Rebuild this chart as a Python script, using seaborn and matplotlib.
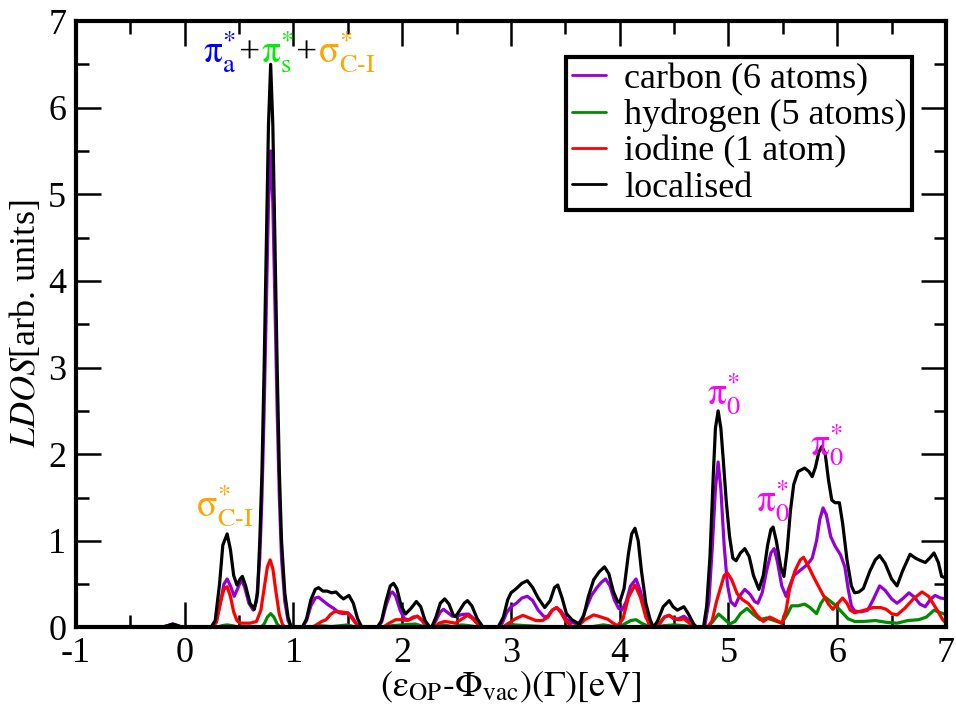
import numpy as np
import pandas as pd
import matplotlib
matplotlib.use("Agg")
import matplotlib.pyplot as plt
import seaborn as sns
from matplotlib.ticker import MultipleLocator

# ---------------- data ----------------
carbon_x = [-1, -0.22, -0.16, -0.11, -0.06, -0.02, 0.24, 0.29, 0.33, 0.36, 0.39, 0.42, 0.455, 0.49, 0.52, 0.55,
            0.59, 0.63, 0.66, 0.69, 0.71, 0.73, 0.75, 0.77, 0.79, 0.81, 0.83, 0.85, 0.87, 0.89, 0.92, 0.95, 0.98,
            1.08, 1.12, 1.16, 1.20, 1.23, 1.27, 1.32, 1.37, 1.42, 1.46, 1.50, 1.54, 1.58, 1.62,
            1.77, 1.81, 1.85, 1.89, 1.91, 1.94, 1.98, 2.02, 2.06, 2.10, 2.14, 2.18, 2.22, 2.25,
            2.27, 2.31, 2.35, 2.38, 2.42, 2.46, 2.50, 2.55, 2.61, 2.66, 2.70, 2.74,
            2.88, 2.92, 2.96, 3.00, 3.05, 3.10, 3.15, 3.20, 3.25, 3.30, 3.33, 3.38, 3.42, 3.46, 3.50, 3.55,
            3.62, 3.66, 3.70, 3.74, 3.79, 3.83, 3.87, 3.91, 3.95, 3.99, 4.02, 4.06, 4.10, 4.15, 4.19, 4.23,
            4.27, 4.32, 4.37, 4.41, 4.455, 4.50, 4.54, 4.59, 4.63, 4.67, 4.71,
            4.78, 4.82, 4.85, 4.88, 4.905, 4.93, 4.96, 4.99, 5.02, 5.06, 5.10, 5.15, 5.20, 5.24, 5.27,
            5.31, 5.35, 5.39, 5.42, 5.45, 5.49, 5.53, 5.56, 5.60, 5.66, 5.72, 5.77, 5.81, 5.84, 5.87,
            5.90, 5.94, 5.98, 6.03, 6.07, 6.10, 6.13, 6.16, 6.22, 6.28, 6.33, 6.39, 6.44, 6.50, 6.55,
            6.60, 6.66, 6.71, 6.76, 6.81, 6.86, 6.90, 6.95, 7.0]
carbon_y = [0, 0, 0.02, 0.04, 0.02, 0, 0, 0.06, 0.30, 0.50, 0.56, 0.48, 0.36, 0.46, 0.55, 0.47,
            0.28, 0.20, 0.30, 0.80, 1.5, 2.5, 3.7, 4.9, 5.5, 4.9, 3.7, 2.5, 1.5, 0.8, 0.3, 0.08, 0,
            0, 0.08, 0.25, 0.34, 0.35, 0.31, 0.26, 0.22, 0.17, 0.16, 0.17, 0.12, 0.04, 0,
            0, 0.06, 0.25, 0.39, 0.41, 0.36, 0.20, 0.10, 0.09, 0.12, 0.13, 0.08, 0.02, 0,
            0, 0.08, 0.18, 0.21, 0.17, 0.13, 0.13, 0.15, 0.155, 0.10, 0.03, 0,
            0, 0.05, 0.17, 0.24, 0.28, 0.34, 0.36, 0.31, 0.20, 0.13, 0.12, 0.20, 0.23, 0.19, 0.11, 0.06,
            0.04, 0.12, 0.25, 0.37, 0.46, 0.52, 0.56, 0.48, 0.32, 0.22, 0.20, 0.30, 0.48, 0.56, 0.42, 0.20,
            0.04, 0, 0.05, 0.12, 0.14, 0.10, 0.10, 0.13, 0.09, 0.03, 0,
            0, 0.30, 0.90, 1.60, 1.91, 1.60, 0.95, 0.50, 0.30, 0.25, 0.36, 0.44, 0.38, 0.30, 0.28,
            0.40, 0.65, 0.86, 0.91, 0.76, 0.48, 0.36, 0.47, 0.60, 0.66, 0.72, 0.80, 1.00, 1.25, 1.38,
            1.30, 1.05, 0.94, 0.84, 0.70, 0.45, 0.25, 0.19, 0.18, 0.20, 0.32, 0.48, 0.43, 0.33, 0.28,
            0.33, 0.40, 0.35, 0.27, 0.24, 0.33, 0.37, 0.34, 0.33]

hydrogen_x = [-1, 0.30, 0.34, 0.39, 0.44, 0.50, 0.70, 0.73, 0.76, 0.79, 0.82, 0.85, 0.88,
              1.15, 1.25, 1.35, 1.50, 1.55, 1.62, 1.80, 1.90, 2.00, 2.12, 2.20, 2.30, 2.38, 2.46, 2.55,
              2.62, 2.72, 2.92, 2.98, 3.03, 3.15, 3.30, 3.40, 3.55, 3.75, 3.85, 3.95, 4.03, 4.10, 4.15,
              4.20, 4.27, 4.30, 4.40, 4.50, 4.60, 4.70, 4.80, 4.85, 4.91, 4.96, 5.01, 5.06, 5.11, 5.17,
              5.23, 5.29, 5.35, 5.42, 5.49, 5.54, 5.58, 5.64, 5.70, 5.75, 5.81, 5.85, 5.89, 5.94, 5.99,
              6.04, 6.10, 6.16, 6.25, 6.35, 6.45, 6.55, 6.65, 6.75, 6.82, 6.89, 6.95, 7.0]
hydrogen_y = [0, 0, 0.02, 0.03, 0.02, 0, 0, 0.04, 0.12, 0.16, 0.12, 0.04, 0,
              0, 0.02, 0.01, 0.03, 0.01, 0, 0, 0.02, 0.03, 0.04, 0.01, 0, 0.03, 0.01, 0.03,
              0.02, 0, 0, 0.05, 0.03, 0.02, 0.01, 0.01, 0, 0.01, 0.03, 0.01, 0.03, 0.08, 0.09,
              0.05, 0.01, 0, 0.02, 0.03, 0.02, 0, 0, 0.06, 0.155, 0.10, 0.04, 0.07, 0.16, 0.22,
              0.15, 0.09, 0.11, 0.08, 0.05, 0.15, 0.25, 0.25, 0.27, 0.23, 0.16, 0.28, 0.35, 0.30, 0.25,
              0.18, 0.10, 0.07, 0.07, 0.08, 0.06, 0.05, 0.08, 0.09, 0.12, 0.20, 0.17, 0.15]

iodine_x = [-1, 0.25, 0.29, 0.33, 0.36, 0.39, 0.42, 0.45, 0.48, 0.51, 0.60, 0.66, 0.70, 0.73, 0.76, 0.785,
            0.81, 0.84, 0.87, 0.90, 0.93, 1.17, 1.21, 1.26, 1.30, 1.34, 1.38, 1.44, 1.49, 1.53, 1.57, 1.62,
            1.82, 1.88, 1.94, 2.00, 2.05, 2.10, 2.14, 2.18, 2.22, 2.25, 2.29, 2.34, 2.39, 2.44, 2.49,
            2.55, 2.60, 2.65, 2.70, 2.74, 2.93, 2.98, 3.04, 3.11, 3.17, 3.23, 3.29, 3.34, 3.38, 3.42,
            3.46, 3.50, 3.56, 3.62, 3.68, 3.76, 3.83, 3.89, 3.94, 3.98, 4.03, 4.08, 4.14, 4.19, 4.24,
            4.28, 4.32, 4.37, 4.41, 4.455, 4.50, 4.55, 4.59, 4.64, 4.70, 4.81, 4.85, 4.89, 4.92, 4.96,
            4.99, 5.03, 5.08, 5.13, 5.18, 5.22, 5.26, 5.32, 5.38, 5.43, 5.49, 5.53, 5.56, 5.61, 5.66,
            5.69, 5.73, 5.78, 5.83, 5.87, 5.92, 5.96, 6.00, 6.05, 6.09, 6.12, 6.16, 6.25, 6.33, 6.40,
            6.45, 6.50, 6.55, 6.62, 6.70, 6.78, 6.84, 6.92, 6.97, 7.0]
iodine_y = [0, 0, 0.06, 0.30, 0.44, 0.47, 0.36, 0.18, 0.08, 0.05, 0.05, 0.07, 0.20, 0.45, 0.70, 0.78,
            0.68, 0.40, 0.15, 0.03, 0, 0, 0.03, 0.07, 0.09, 0.15, 0.185, 0.18, 0.17, 0.12, 0.05, 0,
            0, 0.05, 0.09, 0.09, 0.08, 0.11, 0.13, 0.09, 0.03, 0, 0, 0.05, 0.07, 0.06, 0.05,
            0.10, 0.14, 0.10, 0.03, 0, 0, 0.05, 0.10, 0.14, 0.11, 0.08, 0.08, 0.12, 0.20, 0.23,
            0.17, 0.08, 0.01, 0.02, 0.09, 0.145, 0.12, 0.095, 0.05, 0.02, 0.10, 0.35, 0.49, 0.35, 0.12,
            0.02, 0, 0.05, 0.12, 0.14, 0.10, 0.09, 0.10, 0.05, 0, 0, 0.08, 0.30, 0.43, 0.60,
            0.63, 0.55, 0.39, 0.32, 0.28, 0.22, 0.145, 0.07, 0.12, 0.09, 0.05, 0.20, 0.43, 0.65, 0.78,
            0.81, 0.72, 0.59, 0.47, 0.375, 0.27, 0.21, 0.27, 0.34, 0.28, 0.20, 0.17, 0.20, 0.23, 0.23,
            0.21, 0.16, 0.145, 0.22, 0.33, 0.41, 0.36, 0.20, 0.09, 0.05]

localised_x = [-1, -0.22, -0.16, -0.11, -0.06, -0.02, 0.24, 0.28, 0.32, 0.35, 0.39, 0.42, 0.45, 0.48, 0.51,
               0.53, 0.56, 0.60, 0.64, 0.67, 0.69, 0.71, 0.73, 0.75, 0.77, 0.79, 0.81, 0.83, 0.85, 0.87,
               0.89, 0.92, 0.95, 0.98, 1.08, 1.12, 1.16, 1.20, 1.23, 1.27, 1.31, 1.35, 1.39, 1.43, 1.46,
               1.51, 1.55, 1.59, 1.63, 1.77, 1.81, 1.85, 1.89, 1.92, 1.95, 1.99, 2.03, 2.08, 2.13, 2.17,
               2.21, 2.255, 2.27, 2.31, 2.35, 2.39, 2.43, 2.47, 2.49, 2.53, 2.57, 2.60, 2.64, 2.69, 2.745,
               2.88, 2.93, 2.97, 3.00, 3.05, 3.10, 3.15, 3.20, 3.25, 3.31, 3.36, 3.40, 3.43, 3.47, 3.51,
               3.56, 3.60, 3.63, 3.67, 3.71, 3.76, 3.81, 3.86, 3.90, 3.94, 3.98, 4.00, 4.04, 4.08, 4.11,
               4.14, 4.17, 4.20, 4.24, 4.28, 4.31, 4.35, 4.40, 4.455, 4.49, 4.53, 4.59, 4.63, 4.68, 4.71,
               4.77, 4.80, 4.83, 4.86, 4.88, 4.905, 4.93, 4.95, 4.98, 5.01, 5.04, 5.07, 5.11, 5.15, 5.19,
               5.23, 5.28, 5.32, 5.36, 5.39, 5.41, 5.44, 5.48, 5.51, 5.54, 5.57, 5.60, 5.64, 5.70, 5.74,
               5.77, 5.80, 5.83, 5.86, 5.89, 5.92, 5.95, 5.98, 6.02, 6.05, 6.09, 6.13, 6.16, 6.20, 6.24,
               6.30, 6.35, 6.39, 6.44, 6.50, 6.55, 6.60, 6.67, 6.72, 6.77, 6.81, 6.85, 6.89, 6.93, 6.96, 7.0]
localised_y = [0, 0, 0.02, 0.04, 0.02, 0, 0, 0.08, 0.50, 0.95, 1.08, 0.90, 0.60, 0.49, 0.56,
               0.59, 0.48, 0.28, 0.21, 0.40, 1.0, 1.8, 3.0, 4.4, 5.8, 6.5, 5.8, 4.4, 3.0, 1.8,
               1.0, 0.4, 0.12, 0, 0, 0.10, 0.32, 0.44, 0.46, 0.42, 0.42, 0.40, 0.41, 0.36, 0.33,
               0.37, 0.28, 0.10, 0, 0, 0.08, 0.30, 0.48, 0.51, 0.45, 0.25, 0.155, 0.22, 0.30, 0.24,
               0.08, 0, 0, 0.12, 0.28, 0.33, 0.27, 0.14, 0.125, 0.20, 0.28, 0.31, 0.25, 0.10, 0,
               0, 0.12, 0.32, 0.40, 0.45, 0.51, 0.54, 0.46, 0.34, 0.23, 0.31, 0.46, 0.49, 0.34, 0.16,
               0.09, 0.06, 0.04, 0.14, 0.35, 0.55, 0.64, 0.70, 0.62, 0.42, 0.30, 0.29, 0.45, 0.85, 1.08,
               1.145, 1.00, 0.65, 0.28, 0.09, 0, 0.08, 0.24, 0.31, 0.24, 0.20, 0.24, 0.16, 0.04, 0,
               0, 0.25, 0.82, 1.75, 2.30, 2.50, 2.30, 1.97, 1.45, 1.05, 0.80, 0.77, 0.86, 0.91, 0.82,
               0.60, 0.44, 0.60, 0.95, 1.13, 1.16, 1.00, 0.70, 0.59, 0.90, 1.35, 1.65, 1.80, 1.84, 1.80,
               1.74, 1.85, 2.02, 2.09, 2.00, 1.70, 1.47, 1.44, 1.44, 1.20, 0.78, 0.48, 0.40, 0.41, 0.45,
               0.65, 0.78, 0.83, 0.74, 0.56, 0.48, 0.65, 0.845, 0.80, 0.77, 0.75, 0.80, 0.86, 0.75, 0.59, 0.57]

series_labels = ["carbon (6 atoms)", "hydrogen (5 atoms)", "iodine (1 atom)", "localised"]
series_colors = ["#9400d3", "#008b00", "#ff0000", "#000000"]
x_ticks = [-1, 0, 1, 2, 3, 4, 5, 6, 7]
y_ticks = [0, 1, 2, 3, 4, 5, 6, 7]

# ---------------- style ----------------
sns.set_theme(style="ticks")
plt.rcParams['font.family'] = ['Liberation Serif', 'DejaVu Serif']
plt.rcParams['mathtext.fontset'] = 'stix'
plt.rcParams['axes.unicode_minus'] = False
for k in ['text.color', 'axes.labelcolor', 'xtick.color', 'ytick.color', 'axes.edgecolor']:
    plt.rcParams[k] = 'black'

fig = plt.figure(figsize=(9.56, 7.12), dpi=100)
ax = fig.add_axes([0.0795, 0.1187, 0.9100, 0.8518])

data = [(carbon_x, carbon_y), (hydrogen_x, hydrogen_y), (iodine_x, iodine_y), (localised_x, localised_y)]
for (xs, ys), lab, col in zip(data, series_labels, series_colors):
    df = pd.DataFrame({"E": xs, "LDOS": ys})
    sns.lineplot(data=df, x="E", y="LDOS", color=col, lw=2.3, label=lab, ax=ax,
                 sort=False, estimator=None)

ax.set_xlim(-1, 7)
ax.set_ylim(0, 7)
ax.set_xticks(x_ticks)
ax.set_xticklabels([str(t) for t in x_ticks])
ax.set_yticks(y_ticks)
ax.set_yticklabels([str(t) for t in y_ticks])
ax.xaxis.set_minor_locator(MultipleLocator(0.5))
ax.yaxis.set_minor_locator(MultipleLocator(0.5))
ax.tick_params(which='major', direction='in', length=18, width=1.8, top=True, right=True,
               labelsize=26, pad=7)
ax.tick_params(which='minor', direction='in', length=9, width=1.8, top=True, right=True)
for s in ax.spines.values():
    s.set_linewidth(3)
    s.set_visible(True)

ax.set_xlabel(r'$(\mathrm{\varepsilon}_{\mathrm{OP}}\text{-}\Phi_{\mathrm{vac}})(\Gamma)[\mathrm{eV}]$',
              fontsize=26, labelpad=0)
ax.set_ylabel(r'$LDOS$[arb. units]', fontsize=26, labelpad=4)

leg = ax.legend(loc='upper right', bbox_to_anchor=(0.961, 0.940), borderaxespad=0, fontsize=26,
                frameon=True, fancybox=False, framealpha=1, edgecolor='black', handlelength=0.95,
                handletextpad=0.5, labelspacing=0.08, borderpad=0.15)
leg.get_frame().set_linewidth(3)
for h in leg.get_lines():
    h.set_linewidth(2)

# ---------------- annotations ----------------
fs = 27
ax.text(0.10, 1.28, r'$\mathrm{\sigma}_{\mathrm{C\text{-}I}}^{*}$', color='orange', fontsize=fs, ha='left', va='baseline')
ax.text(4.80, 2.57, r'$\mathrm{\pi}_{0}^{*}$', color='magenta', fontsize=fs, ha='left', va='baseline')
ax.text(5.253, 1.34, r'$\mathrm{\pi}_{0}^{*}$', color='magenta', fontsize=fs, ha='left', va='baseline')
ax.text(5.75, 1.98, r'$\mathrm{\pi}_{0}^{*}$', color='magenta', fontsize=fs, ha='left', va='baseline')

# composite label above the main peak: pieces laid out one after another
pieces = [(r'$\mathrm{\pi}_{\mathrm{a}}^{*}$', 'blue'), ('+', 'black'),
          (r'$\mathrm{\pi}_{\mathrm{s}}^{*}$', '#00ee00'), ('+', 'black'),
          (r'$\mathrm{\sigma}_{\mathrm{C\text{-}I}}^{*}$', 'orange')]
renderer = fig.canvas.get_renderer()
x_cur = 0.17
for txt, col in pieces:
    t = ax.text(x_cur, 6.52, txt, color=col, fontsize=fs, ha='left', va='baseline')
    bb = t.get_window_extent(renderer)
    x_cur = ax.transData.inverted().transform((bb.x1 + 1.5, 0))[0]

fig.savefig("out.png", dpi=100)
